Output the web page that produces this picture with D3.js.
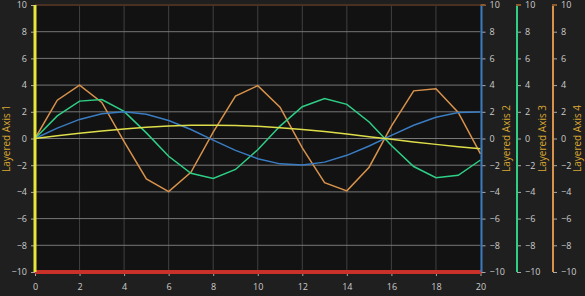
<!DOCTYPE html>
<html>
<head>
<meta charset="utf-8">
<script src="https://cdn.jsdelivr.net/npm/d3@7"></script>
<style>
  body { margin: 0; background: #1f1f1f; }
  svg { display: block; }
  text { font-family: "Open Sans", "Noto Sans", sans-serif; }
</style>
</head>
<body>
<div id="chart"></div>
<script>
// data, sampled at x = 0..20
var xValues = d3.range(0, 21);
var series1 = [0, 0.20, 0.39, 0.56, 0.72, 0.84, 0.93, 0.99, 1.00, 0.97, 0.91, 0.81, 0.68, 0.52, 0.34, 0.14, -0.06, -0.26, -0.44, -0.61, -0.76];
var series2 = [0, 0.78, 1.43, 1.86, 2.00, 1.82, 1.35, 0.67, -0.12, -0.89, -1.51, -1.90, -1.99, -1.77, -1.26, -0.56, 0.23, 0.99, 1.59, 1.94, 1.98];
var series3 = [0, 1.69, 2.80, 2.92, 2.03, 0.42, -1.33, -2.61, -2.99, -2.32, -0.84, 0.93, 2.38, 3.00, 2.56, 1.24, -0.52, -2.10, -2.94, -2.76, -1.61];
var series4 = [0, 2.87, 4.00, 2.70, -0.23, -3.03, -3.98, -2.53, 0.47, 3.17, 3.96, 2.34, -0.70, -3.31, -3.92, -2.15, 0.92, 3.57, 3.73, 1.95, -1.15];
var xTicks = [0, 2, 4, 6, 8, 10, 12, 14, 16, 18, 20];
var yTicks = [-10, -8, -6, -4, -2, 0, 2, 4, 6, 8, 10];
var axisTitles = ["Layered Axis 1", "Layered Axis 2", "Layered Axis 3", "Layered Axis 4"];

var width = 585, height = 296;
var plotLeft = 35, plotRight = 480.5, plotTop = 5, plotBottom = 272;

var svg = d3.select("#chart").append("svg")
  .attr("width", width)
  .attr("height", height);

var x = d3.scaleLinear().domain([0, 20]).range([plotLeft, plotRight]);
var y = d3.scaleLinear().domain([-10, 10]).range([plotBottom, plotTop]);

// plot background
svg.append("rect")
  .attr("x", plotLeft).attr("y", plotTop)
  .attr("width", plotRight - plotLeft).attr("height", plotBottom - plotTop)
  .attr("fill", "#121212");

// grid
svg.append("g").selectAll("line")
  .data(xTicks.slice(1, -1))
  .enter().append("line")
  .attr("x1", d => x(d)).attr("x2", d => x(d))
  .attr("y1", plotTop).attr("y2", plotBottom)
  .attr("stroke", "#404040").attr("stroke-width", 1);

svg.append("g").selectAll("line")
  .data(yTicks.slice(1, -1))
  .enter().append("line")
  .attr("x1", plotLeft).attr("x2", plotRight)
  .attr("y1", d => y(d)).attr("y2", d => y(d))
  .attr("stroke", "#777").attr("stroke-width", 1);

// top edge
svg.append("line")
  .attr("x1", plotLeft).attr("x2", plotRight)
  .attr("y1", plotTop).attr("y2", plotTop)
  .attr("stroke", "#4a3020").attr("stroke-width", 2);

// series
var line = d3.line()
  .x((d, i) => x(xValues[i]))
  .y(d => y(d));

var lines = [
  { values: series4, color: "#d8924c" },
  { values: series3, color: "#2fcf86" },
  { values: series2, color: "#3a7cc2" },
  { values: series1, color: "#dede4a" }
];
lines.forEach(function(s) {
  svg.append("path")
    .datum(s.values)
    .attr("d", line)
    .attr("fill", "none")
    .attr("stroke", s.color)
    .attr("stroke-width", 1.5);
});

// bottom axis
var xAxis = d3.axisBottom(x).tickValues(xTicks).tickSize(4).tickPadding(8);
var gx = svg.append("g")
  .attr("transform", "translate(0," + plotBottom + ")")
  .call(xAxis);
gx.select(".domain").remove();
gx.selectAll(".tick line").attr("stroke", "#aaa");
gx.selectAll("text").attr("fill", "#ccc").attr("font-size", "9px");
svg.append("line")
  .attr("x1", plotLeft).attr("x2", plotRight + 1)
  .attr("y1", plotBottom).attr("y2", plotBottom)
  .attr("stroke", "#c8302a").attr("stroke-width", 4);

// left axis
var yAxis = d3.axisLeft(y).tickValues(yTicks).tickSize(4).tickPadding(4);
var gy = svg.append("g")
  .attr("transform", "translate(" + plotLeft + ",0)")
  .call(yAxis);
gy.select(".domain").remove();
gy.selectAll(".tick line").attr("stroke", "#aaa");
gy.selectAll("text").attr("fill", "#ccc").attr("font-size", "9px");
svg.append("line")
  .attr("x1", plotLeft).attr("x2", plotLeft)
  .attr("y1", plotTop).attr("y2", plotBottom)
  .attr("stroke", "#e6e63c").attr("stroke-width", 3);

svg.append("text")
  .attr("transform", "translate(7," + ((plotTop + plotBottom) / 2) + ") rotate(-90)")
  .attr("text-anchor", "middle")
  .attr("dominant-baseline", "middle")
  .attr("fill", "#d9a632")
  .attr("font-size", "10px")
  .text(axisTitles[0]);

// right axes
var rightAxes = [
  { pos: 481.5, color: "#3a7cc2", title: axisTitles[1], titleX: 507 },
  { pos: 517, color: "#2fcf86", title: axisTitles[2], titleX: 543 },
  { pos: 553, color: "#d8924c", title: axisTitles[3], titleX: 578.5 }
];
rightAxes.forEach(function(a) {
  var g = svg.append("g")
    .attr("transform", "translate(" + a.pos + ",0)")
    .call(d3.axisRight(y).tickValues(yTicks).tickSize(4).tickPadding(4));
  g.select(".domain").remove();
  g.selectAll(".tick line").attr("stroke", "#aaa");
  g.selectAll("text").attr("fill", "#ccc").attr("font-size", "9px");
  svg.append("line")
    .attr("x1", a.pos).attr("x2", a.pos)
    .attr("y1", plotTop).attr("y2", plotBottom)
    .attr("stroke", a.color).attr("stroke-width", 2);
  svg.append("line")
    .attr("x1", a.pos - 1).attr("x2", a.pos + 4)
    .attr("y1", plotTop).attr("y2", plotTop)
    .attr("stroke", "#8a5a2a").attr("stroke-width", 2);
  svg.append("text")
    .attr("transform", "translate(" + a.titleX + "," + ((plotTop + plotBottom) / 2) + ") rotate(-90)")
    .attr("text-anchor", "middle")
    .attr("dominant-baseline", "middle")
    .attr("fill", "#d9a632")
    .attr("font-size", "10px")
    .text(a.title);
});
</script>
</body>
</html>
